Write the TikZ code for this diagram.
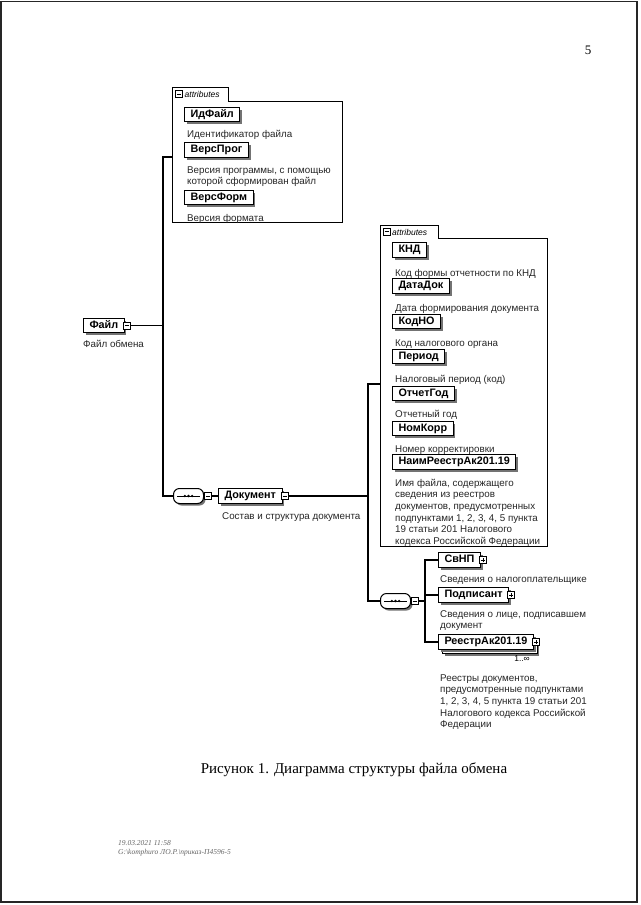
\documentclass[tikz,border=0pt]{standalone}
\usepackage{fontspec}
\setmainfont{Liberation Serif}
\setsansfont{Liberation Sans}
\usetikzlibrary{shadows,calc}
\newcommand{\descfont}{\sffamily\fontsize{9.8}{11.6}\selectfont}
\newcommand{\lblfont}{\sffamily\bfseries\fontsize{10.8}{12}\selectfont}
\tikzset{
  conn/.style={line width=1.1pt, black},
  lblbase/.style={draw=black, line width=1pt, fill=white, font=\lblfont, inner xsep=6pt, inner ysep=0pt,
    minimum height=14.5pt, text height=7.8pt, text depth=2pt, anchor=west},
  lbl/.style={lblbase, drop shadow={shadow xshift=2.2pt, shadow yshift=-2.5pt, fill=black!55, opacity=1}},
  multilbl/.style={lblbase,
    drop shadow={shadow xshift=6pt, shadow yshift=-6.5pt, fill=black!55, opacity=1},
    copy shadow={shadow xshift=4pt, shadow yshift=-4pt, draw=black, fill=white, opacity=1},
    drop shadow={shadow xshift=2.2pt, shadow yshift=-2.5pt, fill=black!55, opacity=1}},
  desc/.style={font=\descfont, anchor=north west, inner sep=0pt, align=left, text=black!85},
  icon/.style={draw=black, line width=0.8pt, fill=white, minimum size=7pt, inner sep=0pt, rectangle},
  minusicon/.style={icon, path picture={\draw[line width=0.8pt] ([xshift=1.5pt]path picture bounding box.west) -- ([xshift=-1.5pt]path picture bounding box.east);}},
  plusicon/.style={icon, path picture={\draw[line width=0.8pt] ([xshift=1.5pt]path picture bounding box.west) -- ([xshift=-1.5pt]path picture bounding box.east);
      \draw[line width=0.8pt] ([yshift=-1.5pt]path picture bounding box.north) -- ([yshift=1.5pt]path picture bounding box.south);}},
  seqbox/.style={draw=black, line width=1pt, fill=white, rounded corners=6pt, minimum width=30pt, minimum height=15pt,
    inner sep=0pt, anchor=west, drop shadow={shadow xshift=2pt, shadow yshift=-2pt, fill=black!55, opacity=1}},
  attrbox/.style={draw=black, line width=0.9pt},
  tabtext/.style={font=\sffamily\itshape\fontsize{8.5}{9}\selectfont, anchor=west, inner sep=0pt},
  multtext/.style={font=\sffamily\fontsize{8.5}{9}\selectfont, anchor=east, inner sep=0pt},
}
\begin{document}
\begin{tikzpicture}[x=1pt,y=-1pt]
\useasboundingbox (0,0) rectangle (640,905);
\fill[white] (0,0) rectangle (640,905);
% scan frame
\draw[line width=1.6pt, black!85] (0.8,1.5) rectangle (637,902);

% page number
\node[font=\fontsize{13}{14}\selectfont] (pg) at (588,50) {5};

% ===== attributes box 1 =====
\draw[attrbox] (172,222) -- (172,87) -- (228,87) -- (228,101) -- (342,101) -- (342,222) -- cycle;
\node[minusicon] (a1m) at (179,94) {};
\node[tabtext] (a1t) at (184.5,94.5) {attributes};
\coordinate (a1in) at (172,157);

\node[lbl] (idf) at (184,114.5) {ИдФайл};
\node[desc] (idfd) at (187,129) {\strut Идентификатор файла};
\node[lbl] (vprog) at (184,150) {ВерсПрог};
\node[desc] (vprogd) at (187,165) {\strut Версия программы, с помощью\\которой сформирован файл};
\node[lbl] (vform) at (184,197.5) {ВерсФорм};
\node[desc] (vformd) at (187,213) {\strut Версия формата};

% ===== root element =====
\node[lbl] (file) at (83,325.5) {Файл};
\node[minusicon] (filem) at ([xshift=2pt]file.east) {};
\node[desc] (filed) at (83,339) {\strut Файл обмена};

% ===== sequence 1 and Документ =====
\node[seqbox] (seq1) at (173,496) {};
\draw[line width=0.8pt] ([xshift=4pt]seq1.west) -- ([xshift=-4pt]seq1.east);
\fill ([xshift=-3.6pt]seq1.center) circle (1.3pt) (seq1.center) circle (1.3pt) ([xshift=3.6pt]seq1.center) circle (1.3pt);
\node[minusicon] (seq1m) at ([xshift=3.5pt]seq1.east) {};

\node[lbl] (doc) at (218,496) {Документ};
\node[minusicon] (docm) at ([xshift=2pt]doc.east) {};
\node[desc] (docd) at (222,511) {\strut Состав и структура документа};

% bus 1
\coordinate (b1top) at (163,157);
\coordinate (b1mid) at (163,325.5);
\coordinate (b1bot) at (163,496);
\draw[conn] (a1in) -- (b1top) -- (b1bot) -- (seq1.west);
\draw[conn] (filem.east) -- (b1mid);
\draw[conn] (seq1m.east) -- (doc.west);

% ===== attributes box 2 =====
\draw[attrbox] (380,546) -- (380,225) -- (438,225) -- (438,238) -- (547,238) -- (547,546) -- cycle;
\node[minusicon] (a2m) at (386.5,231.5) {};
\node[tabtext] (a2t) at (392,232) {attributes};
\coordinate (a2in) at (380,384);

\node[lbl] (knd) at (392,250) {КНД};
\node[desc] (kndd) at (395,268) {\strut Код формы отчетности по КНД};
\node[lbl] (datadok) at (392,286) {ДатаДок};
\node[desc] (datadokd) at (395,303) {\strut Дата формирования документа};
\node[lbl] (kodno) at (392,321.5) {КодНО};
\node[desc] (kodnod) at (395,338) {\strut Код налогового органа};
\node[lbl] (period) at (392,356.5) {Период};
\node[desc] (periodd) at (395,374) {\strut Налоговый период (код)};
\node[lbl] (otchgod) at (392,393.5) {ОтчетГод};
\node[desc] (otchgodd) at (395,409) {\strut Отчетный год};
\node[lbl] (nomkorr) at (392,428.5) {НомКорр};
\node[desc] (nomkorrd) at (395,444) {\strut Номер корректировки};
\node[lbl] (naim) at (392,462) {НаимРеестрАк201.19};
\node[desc] (naimd) at (395,478) {\strut Имя файла, содержащего\\сведения из реестров\\документов, предусмотренных\\подпунктами 1, 2, 3, 4, 5 пункта\\19 статьи 201 Налогового\\кодекса Российской Федерации};

% ===== sequence 2 =====
\node[seqbox] (seq2) at (380,601) {};
\draw[line width=0.8pt] ([xshift=4pt]seq2.west) -- ([xshift=-4pt]seq2.east);
\fill ([xshift=-3.6pt]seq2.center) circle (1.3pt) (seq2.center) circle (1.3pt) ([xshift=3.6pt]seq2.center) circle (1.3pt);
\node[minusicon] (seq2m) at ([xshift=3.5pt]seq2.east) {};

\node[lbl] (svnp) at (438,560) {СвНП};
\node[plusicon] (svnpp) at ([xshift=2pt]svnp.east) {};
\node[desc] (svnpd) at (440,574) {\strut Сведения о налогоплательщике};
\node[lbl] (podp) at (438,595) {Подписант};
\node[plusicon] (podpp) at ([xshift=2pt]podp.east) {};
\node[desc] (podpd) at (440,609) {\strut Сведения о лице, подписавшем\\документ};
\node[multilbl] (reestr) at (438,642) {РеестрАк201.19};
\node[plusicon] (reestrp) at ([xshift=2pt]reestr.east) {};
\node[multtext] (reestrm) at (530,659) {1..∞};
\node[desc] (reestrd) at (440,673) {\strut Реестры документов,\\предусмотренные подпунктами\\1, 2, 3, 4, 5 пункта 19 статьи 201\\Налогового кодекса Российской\\Федерации};

% bus 2
\coordinate (b2top) at (368,384);
\coordinate (b2mid) at (368,496);
\coordinate (b2bot) at (368,601);
\draw[conn] (docm.east) -- (b2mid);
\draw[conn] (a2in) -- (b2top) -- (b2bot) -- (seq2.west);

% bus 3
\coordinate (b3top) at (425,560);
\coordinate (b3mid) at (425,601);
\coordinate (b3pod) at (425,595);
\coordinate (b3bot) at (425,642);
\draw[conn] (seq2m.east) -- (b3mid);
\draw[conn] (svnp.west) -- (b3top) -- (b3bot) -- (reestr.west);
\draw[conn] (b3pod) -- (podp.west);

% caption
\node[font=\fontsize{15}{17}\selectfont] (cap) at (354,770) {Рисунок 1. Диаграмма структуры файла обмена};

% footer
\node[font=\itshape\fontsize{7.5}{9}\selectfont, text=black!60, anchor=north west, inner sep=0pt, align=left] (foot) at (118,840)
  {19.03.2021 11:58\\G:\textbackslash komphuro ЛО.Р.\textbackslash приказ-П4596-5};
\end{tikzpicture}
\end{document}
